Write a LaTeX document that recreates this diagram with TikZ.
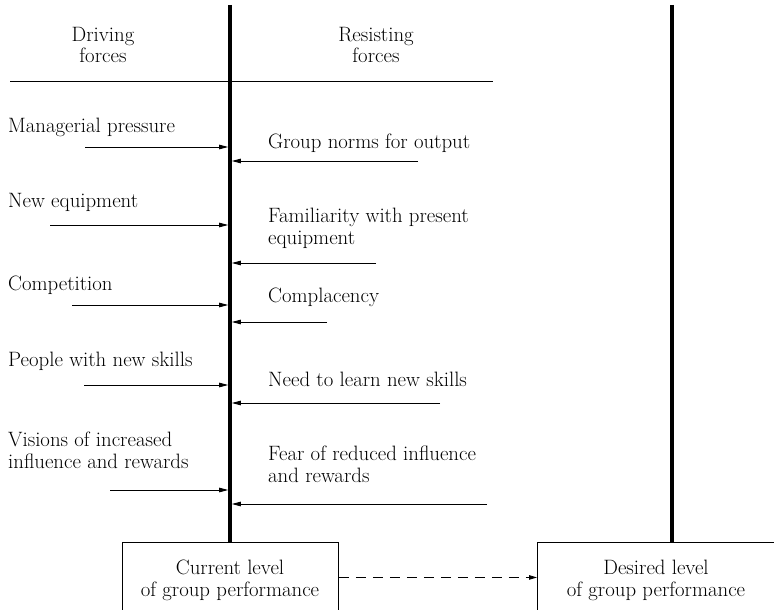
\documentclass[tikz,border=0pt]{standalone}
\usetikzlibrary{arrows.meta}
\begin{document}
\begin{tikzpicture}[x=1pt,y=-1pt,
  txt/.style={inner sep=0pt, font=\fontsize{20.8}{21.5}\selectfont, align=left, anchor=base west},
  ctxt/.style={inner sep=0pt, font=\fontsize{20.8}{21.5}\selectfont, align=center, anchor=base},
  force/.style={line width=0.9pt, -{Triangle[length=9pt,width=4.5pt]}},
  bar/.style={line width=3.6pt},
  lvlbox/.style={draw, line width=0.9pt, anchor=north west, minimum height=70pt, inner sep=0pt},
  flow/.style={line width=0.9pt, dash pattern=on 10pt off 7pt, -{Triangle[length=8pt,width=4.5pt]}}]
\useasboundingbox (0,0) rectangle (774,610);
\clip (0,0) rectangle (774,610);
\fill[white] (0,0) rectangle (774,610);

% level boxes
\node[lvlbox, minimum width=216pt] (cur) at (122,542) {};
\node[lvlbox, minimum width=260pt] (des) at (537,542) {};
\node[ctxt] (curt) at (230,596) {Current level\\of group performance};
\node[ctxt] (dest) at (656,596) {Desired level\\of group performance};

% thick vertical lines
\coordinate (ltop) at (230,5);
\coordinate (rtop) at (672,5);
\draw[bar] (ltop) -- (ltop |- cur.north);
\draw[bar] (rtop) -- (rtop |- des.north);

% header
\node[ctxt] (drv) at (103,63) {Driving\\forces};
\node[ctxt] (res) at (376,63) {Resisting\\forces};
\coordinate (hl) at (10,81.5);
\coordinate (hr) at (493,81.5);
\draw[line width=0.9pt] (hl) -- (hr);

% driving forces
\node[txt] (d1) at (8,132) {Managerial pressure};
\node[txt] (d2) at (8,207) {New equipment};
\node[txt] (d3) at (8,290) {Competition};
\node[txt] (d4) at (8,366) {People with new skills};
\node[txt] (d5) at (8,468) {Visions of increased\\influence and rewards};

\coordinate (da1) at (85,147);
\coordinate (da2) at (50,225);
\coordinate (da3) at (72,305);
\coordinate (da4) at (84,385);
\coordinate (da5) at (110,490);
\foreach \c in {da1,da2,da3,da4,da5}
  \draw[force, shorten >=1.8pt] (\c) -- (\c -| ltop);

% resisting forces
\node[txt] (r1) at (268,148) {Group norms for output};
\node[txt] (r2) at (268,244) {Familiarity with present\\equipment};
\node[txt] (r3) at (268,302) {Complacency};
\node[txt] (r4) at (268,386) {Need to learn new skills};
\node[txt] (r5) at (268,482) {Fear of reduced influence\\and rewards};

\coordinate (ra1) at (418,161);
\coordinate (ra2) at (376,263);
\coordinate (ra3) at (327,322);
\coordinate (ra4) at (440,403);
\coordinate (ra5) at (487,504);
\foreach \c in {ra1,ra2,ra3,ra4,ra5}
  \draw[force, shorten >=1.8pt] (\c) -- (\c -| ltop);

% change
\draw[flow] (cur.east) -- (des.west);
\end{tikzpicture}
\end{document}
